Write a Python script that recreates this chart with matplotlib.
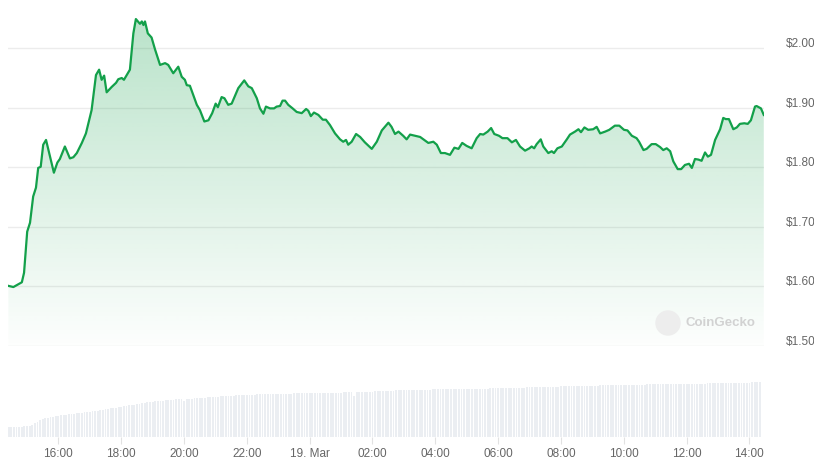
import numpy as np
import matplotlib
matplotlib.use('Agg')
import matplotlib.pyplot as plt
from matplotlib.patches import Circle
from matplotlib.transforms import ScaledTranslation

# ---- data (hours since 18 Mar 00:00, price in USD) ----
hours = [14.41, 14.57, 14.84, 14.91, 15.01, 15.10, 15.20, 15.29, 15.36, 15.44,
         15.52, 15.61, 15.71, 15.86, 15.97, 16.05, 16.21, 16.37, 16.48, 16.59,
         16.75, 16.88, 17.06, 17.20, 17.30, 17.38, 17.46, 17.54, 17.70, 17.84,
         17.91, 18.02, 18.09, 18.18, 18.28, 18.39, 18.47, 18.60, 18.66, 18.71,
         18.76, 18.85, 18.97, 19.08, 19.24, 19.40, 19.50, 19.66, 19.82, 19.93,
         20.03, 20.09, 20.19, 20.41, 20.51, 20.65, 20.78, 20.90, 21.01, 21.08,
         21.20, 21.29, 21.41, 21.52, 21.73, 21.92, 22.05, 22.16, 22.32, 22.42,
         22.48, 22.53, 22.61, 22.74, 22.87, 22.95, 23.06, 23.14, 23.22, 23.32,
         23.46, 23.59, 23.75, 23.89, 23.96, 24.04, 24.14, 24.28, 24.42, 24.52,
         24.65, 24.81, 24.97, 25.07, 25.16, 25.23, 25.34, 25.48, 25.61, 25.76,
         25.98, 26.14, 26.30, 26.51, 26.61, 26.72, 26.83, 26.98, 27.09, 27.20,
         27.36, 27.52, 27.65, 27.78, 27.94, 28.05, 28.18, 28.31, 28.47, 28.61,
         28.74, 28.86, 29.00, 29.16, 29.32, 29.43, 29.53, 29.67, 29.78, 29.88,
         30.03, 30.14, 30.30, 30.44, 30.57, 30.70, 30.86, 31.00, 31.07, 31.15,
         31.23, 31.36, 31.44, 31.60, 31.71, 31.78, 31.89, 32.03, 32.19, 32.29,
         32.45, 32.56, 32.64, 32.75, 32.87, 33.03, 33.14, 33.25, 33.41, 33.54,
         33.72, 33.86, 34.01, 34.12, 34.26, 34.41, 34.49, 34.63, 34.73, 34.89,
         35.02, 35.16, 35.26, 35.37, 35.48, 35.58, 35.72, 35.83, 35.95, 36.08,
         36.17, 36.27, 36.38, 36.48, 36.59, 36.68, 36.78, 36.91, 37.07, 37.17,
         37.25, 37.35, 37.49, 37.60, 37.70, 37.84, 37.95, 38.05, 38.18, 38.23,
         38.37, 38.46]
price = [1.601, 1.599, 1.607, 1.623, 1.692, 1.707, 1.751, 1.766, 1.799, 1.801,
         1.838, 1.846, 1.824, 1.791, 1.808, 1.814, 1.835, 1.815, 1.817, 1.824,
         1.841, 1.857, 1.896, 1.955, 1.964, 1.947, 1.954, 1.926, 1.935, 1.942,
         1.948, 1.950, 1.947, 1.955, 1.964, 2.025, 2.049, 2.041, 2.045, 2.039,
         2.045, 2.025, 2.018, 1.998, 1.972, 1.975, 1.972, 1.958, 1.969, 1.952,
         1.947, 1.938, 1.937, 1.905, 1.896, 1.877, 1.879, 1.891, 1.907, 1.901,
         1.918, 1.916, 1.905, 1.907, 1.933, 1.946, 1.936, 1.933, 1.916, 1.899,
         1.894, 1.890, 1.902, 1.899, 1.899, 1.902, 1.903, 1.912, 1.912, 1.905,
         1.899, 1.893, 1.891, 1.898, 1.895, 1.886, 1.892, 1.888, 1.880, 1.880,
         1.871, 1.857, 1.847, 1.843, 1.846, 1.838, 1.843, 1.856, 1.851, 1.842,
         1.831, 1.843, 1.862, 1.875, 1.868, 1.856, 1.860, 1.853, 1.847, 1.855,
         1.853, 1.851, 1.846, 1.841, 1.843, 1.838, 1.824, 1.824, 1.821, 1.833,
         1.831, 1.841, 1.836, 1.832, 1.849, 1.856, 1.855, 1.860, 1.866, 1.856,
         1.853, 1.849, 1.849, 1.842, 1.846, 1.835, 1.828, 1.832, 1.835, 1.832,
         1.839, 1.847, 1.835, 1.824, 1.827, 1.824, 1.832, 1.835, 1.847, 1.855,
         1.860, 1.864, 1.859, 1.867, 1.863, 1.864, 1.868, 1.857, 1.860, 1.863,
         1.870, 1.870, 1.863, 1.862, 1.853, 1.849, 1.843, 1.829, 1.831, 1.839,
         1.839, 1.834, 1.829, 1.832, 1.827, 1.810, 1.797, 1.797, 1.804, 1.806,
         1.799, 1.814, 1.813, 1.811, 1.825, 1.818, 1.821, 1.846, 1.864, 1.883,
         1.881, 1.881, 1.864, 1.867, 1.873, 1.874, 1.873, 1.879, 1.902, 1.903,
         1.899, 1.888]

# 5-minute volume bars (arbitrary units), first bar at 14:25
vol_start = 14.42
volume = [
    10.5, 10.2, 10.6, 10.4, 10.8, 10.5, 10.9, 11.2, 11.5, 12.7, 14.0, 15.0,
    17.0, 18.0, 19.5, 19.8, 20.0, 20.5, 21.0, 21.5, 22.0, 22.3, 22.6, 23.0,
    23.5, 23.8, 24.0, 24.3, 24.5, 25.0, 25.3, 25.8, 26.0, 26.3, 26.8, 27.5,
    27.8, 28.2, 28.6, 29.0, 29.3, 29.8, 30.2, 30.6, 31.0, 31.5, 32.0, 32.3,
    32.7, 33.2, 33.7, 34.2, 34.5, 35.0, 35.3, 35.6, 36.0, 36.2, 36.5, 36.8,
    37.0, 37.2, 37.5, 37.7, 37.9, 38.0, 38.2, 36.5, 38.4, 38.6, 38.8, 39.0,
    39.2, 39.4, 39.6, 39.8, 40.0, 40.2, 40.4, 40.6, 40.8, 41.0, 41.2, 41.3,
    41.5, 41.6, 41.8, 41.9, 42.0, 42.2, 42.4, 42.5, 42.6, 42.7, 42.8, 42.9,
    43.0, 43.0, 43.1, 43.2, 43.3, 43.4, 43.5, 43.5, 43.6, 43.6, 43.7, 43.8,
    43.8, 43.9, 44.0, 44.0, 44.1, 44.1, 44.2, 44.2, 44.3, 44.3, 44.4, 44.4,
    44.5, 44.5, 44.6, 44.6, 44.7, 44.7, 44.8, 44.8, 44.9, 44.9, 45.0, 45.0,
    41.0, 45.1, 45.2, 45.3, 45.4, 45.5, 45.6, 45.7, 45.9, 46.0, 46.2, 46.4,
    46.5, 46.6, 46.7, 46.8, 47.0, 47.0, 47.1, 47.2, 47.3, 47.3, 47.4, 47.5,
    47.6, 47.6, 47.7, 47.7, 47.8, 47.8, 47.9, 48.0, 48.0, 48.0, 48.1, 48.1,
    48.2, 48.2, 48.3, 48.3, 48.3, 48.4, 48.4, 48.5, 48.5, 48.5, 48.6, 48.6,
    48.7, 48.7, 48.8, 48.8, 48.9, 49.0, 49.0, 49.1, 49.2, 49.2, 49.3, 49.4,
    49.4, 49.5, 49.6, 49.6, 49.7, 49.8, 49.9, 50.0, 50.0, 50.1, 50.2, 50.3,
    50.3, 50.4, 50.5, 50.6, 50.6, 50.7, 50.8, 50.9, 51.0, 51.0, 51.1, 51.2,
    51.2, 51.3, 51.3, 51.4, 51.5, 51.5, 51.6, 51.7, 51.7, 51.8, 51.9, 51.9,
    52.0, 52.1, 52.1, 52.2, 52.3, 52.3, 52.4, 52.5, 52.5, 52.6, 52.6, 52.7,
    52.7, 52.8, 52.8, 52.8, 52.9, 52.9, 53.0, 53.0, 53.0, 53.1, 53.1, 53.2,
    53.2, 53.2, 53.3, 53.3, 53.3, 53.4, 53.4, 53.5, 53.5, 53.6, 53.6, 53.7,
    53.7, 53.8, 53.8, 53.9, 53.9, 54.0, 54.0, 54.1, 54.1, 54.2, 54.2, 54.3,
    54.3, 54.4, 54.4, 54.5, 54.5, 54.6, 54.7, 54.8, 55.0, 55.2, 55.4, 55.6,
]

price_ticks = [1.50, 1.60, 1.70, 1.80, 1.90, 2.00]
price_labels = ['$1.50', '$1.60', '$1.70', '$1.80', '$1.90', '$2.00']
time_ticks = [16, 18, 20, 22, 24, 26, 28, 30, 32, 34, 36, 38]
time_labels = ['16:00', '18:00', '20:00', '22:00', '19. Mar', '02:00',
               '04:00', '06:00', '08:00', '10:00', '12:00', '14:00']

# ---- styling ----
plt.rcParams['font.family'] = ['Liberation Sans', 'DejaVu Sans']
LINE = '#13a04a'
TXT = '#666666'
GRID = '#ececec'
BAR = '#ebeef2'

W, H = 814, 461
fig = plt.figure(figsize=(W / 100, H / 100), dpi=100)
fig.patch.set_facecolor('white')

x0, x1 = 14.399, 38.467
ax = fig.add_axes([8 / W, (H - 346) / H, 756 / W, 346 / H])
axv = fig.add_axes([8 / W, (H - 437.3) / H, 756 / W, 87.3 / H])

ymin, ymax = 1.50, 2.081
ax.set_xlim(x0, x1)
ax.set_ylim(ymin, ymax)

# gradient fill under the line
poly = ax.fill_between(hours, price, ymin, color='none', lw=0)
grad = np.linspace(0.0, 1.0, 256).reshape(-1, 1)
rgba = np.zeros((256, 1, 4))
rgba[..., 0] = 0x13 / 255
rgba[..., 1] = 0xa0 / 255
rgba[..., 2] = 0x4a / 255
rgba[..., 3] = 0.01 + 0.29 * grad
im = ax.imshow(rgba, extent=[x0, x1, ymin, 2.06], origin='lower',
               aspect='auto', zorder=1, interpolation='bilinear')
im.set_clip_path(poly.get_paths()[0], transform=ax.transData)

ax.plot(hours, price, color=LINE, lw=1.6, zorder=3, solid_joinstyle='round')

ax.set_yticks(price_ticks)
ax.set_yticklabels(price_labels)
ax.yaxis.tick_right()
ax.tick_params(axis='y', length=0, pad=15.5, labelsize=8.5, labelcolor=TXT)
for lab in ax.get_yticklabels():
    lab.set_transform(lab.get_transform() +
                      ScaledTranslation(0, 5.5 / 100, fig.dpi_scale_trans))
ax.set_xticks([])
ax.grid(axis='y', color=GRID, lw=1)
ax.set_axisbelow(True)
for s in ax.spines.values():
    s.set_visible(False)

# volume bars
vt = [vol_start + i / 12 for i in range(len(volume))]
axv.bar(vt, volume, width=(1 / 12) * 0.7, color=BAR, align='center', lw=0)
axv.set_xlim(x0, x1)
axv.set_ylim(0, 87.3)
axv.set_yticks([])
axv.set_xticks(time_ticks)
axv.set_xticklabels(time_labels)
axv.tick_params(axis='x', length=5, color='#e2e2e2', pad=3, labelsize=8.5,
                labelcolor=TXT)
for s in axv.spines.values():
    s.set_visible(False)

# watermark
fig.patches.append(Circle((6.68, (H - 323) / 100), 0.12,
                          transform=fig.dpi_scale_trans, color='#ededed',
                          zorder=0))
fig.text(686 / W, (H - 323) / H, 'CoinGecko', fontsize=9.5, color='#d2d2d2',
         va='center', ha='left', fontweight='bold')

fig.savefig('out.png', dpi=100, facecolor='white')
